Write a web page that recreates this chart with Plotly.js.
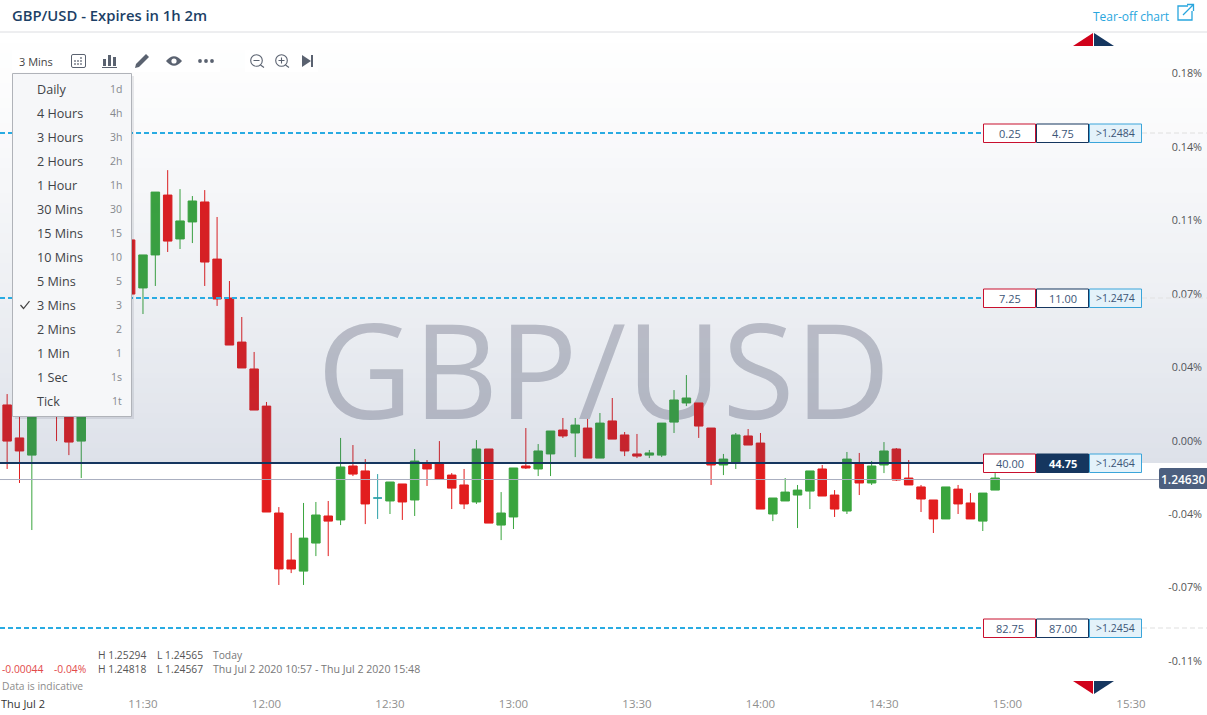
<!DOCTYPE html>
<html>
<head>
<meta charset="utf-8">
<script src="https://cdn.plot.ly/plotly-3.0.1.min.js"></script>
<style>
html,body{margin:0;padding:0;background:#fff;overflow:hidden}
#wm{position:absolute;left:317px;top:302px;font:400 132px/1 "Open Sans",sans-serif;color:#c7c8cf;white-space:nowrap;z-index:0}
#gd{position:absolute;left:0;top:0;width:1207px;height:715px;z-index:1}
</style>
</head>
<body>
<div id="wm">GBP/USD</div>
<div id="gd"></div>
<script>
const times = ["10:57","11:00","11:03","11:09","11:12","11:15","11:27","11:30","11:33","11:36","11:39","11:42","11:45","11:48","11:51","11:54","11:57","12:00","12:03","12:06","12:09","12:12","12:15","12:18","12:21","12:24","12:27","12:30","12:33","12:36","12:39","12:42","12:45","12:48","12:51","12:54","12:57","13:00","13:03","13:06","13:09","13:12","13:15","13:18","13:21","13:24","13:27","13:30","13:33","13:36","13:39","13:42","13:45","13:48","13:51","13:54","13:57","14:00","14:03","14:06","14:09","14:12","14:15","14:18","14:21","14:24","14:27","14:30","14:33","14:36","14:39","14:42","14:45","14:48","14:51","14:54","14:57"];
const opens = [1.246752,1.246552,1.246448,1.246812,1.246752,1.246533,1.247752,1.247461,1.247661,1.248024,1.247758,1.247861,1.247982,1.247636,1.247400,1.247133,1.246970,1.246745,1.246097,1.245812,1.245745,1.245915,1.246079,1.246055,1.246382,1.246352,1.246188,1.246170,1.246273,1.246176,1.246400,1.246400,1.246327,1.246267,1.246164,1.246485,1.246024,1.246073,1.246382,1.246364,1.246455,1.246600,1.246582,1.246612,1.246430,1.246655,1.246570,1.246455,1.246448,1.246448,1.246648,1.246764,1.246764,1.246612,1.246388,1.246406,1.246564,1.246521,1.246091,1.246170,1.246206,1.246230,1.246364,1.246206,1.246109,1.246394,1.246279,1.246388,1.246485,1.246309,1.246255,1.246176,1.246061,1.246242,1.246158,1.246048,1.246236];
const highs = [1.246818,1.246782,1.246782,1.246842,1.246794,1.246794,1.247800,1.247661,1.248042,1.248175,1.248060,1.248018,1.248054,1.247891,1.247503,1.247285,1.247073,1.246770,1.246133,1.245976,1.246158,1.246164,1.246170,1.246552,1.246509,1.246424,1.246333,1.246285,1.246273,1.246485,1.246418,1.246533,1.246339,1.246364,1.246539,1.246485,1.246224,1.246370,1.246612,1.246515,1.246594,1.246673,1.246673,1.246667,1.246703,1.246794,1.246588,1.246576,1.246479,1.246642,1.246842,1.246933,1.246764,1.246612,1.246455,1.246582,1.246606,1.246582,1.246188,1.246309,1.246267,1.246352,1.246388,1.246236,1.246467,1.246461,1.246412,1.246527,1.246491,1.246418,1.246267,1.246176,1.246255,1.246267,1.246218,1.246218,1.246339];
const lows = [1.246364,1.246279,1.245994,1.246533,1.246448,1.246309,1.247388,1.247303,1.247473,1.247679,1.247697,1.247733,1.247473,1.247352,1.247115,1.246976,1.246721,1.246103,1.245661,1.245733,1.245661,1.245836,1.245836,1.246024,1.246321,1.246030,1.246061,1.246091,1.246055,1.246079,1.246261,1.246303,1.246121,1.246121,1.246152,1.246036,1.245933,1.246000,1.246364,1.246321,1.246321,1.246552,1.246436,1.246430,1.246430,1.246545,1.246442,1.246430,1.246430,1.246436,1.246582,1.246745,1.246552,1.246267,1.246327,1.246364,1.246509,1.246121,1.246048,1.246170,1.246006,1.246121,1.246200,1.246073,1.246091,1.246206,1.246267,1.246339,1.246291,1.246267,1.246103,1.245976,1.246061,1.246091,1.246061,1.245988,1.246236];
const closes = [1.246533,1.246473,1.246721,1.246709,1.246527,1.246752,1.247424,1.247661,1.248042,1.247745,1.247867,1.247988,1.247618,1.247394,1.247115,1.246976,1.246721,1.246103,1.245758,1.245758,1.245945,1.246085,1.246048,1.246376,1.246333,1.246152,1.246188,1.246285,1.246164,1.246412,1.246364,1.246303,1.246248,1.246152,1.246485,1.246036,1.246097,1.246370,1.246370,1.246473,1.246594,1.246564,1.246630,1.246430,1.246642,1.246545,1.246473,1.246442,1.246461,1.246642,1.246782,1.246794,1.246624,1.246388,1.246424,1.246570,1.246509,1.246121,1.246188,1.246224,1.246236,1.246352,1.246200,1.246121,1.246424,1.246279,1.246382,1.246473,1.246297,1.246267,1.246182,1.246061,1.246255,1.246152,1.246061,1.246218,1.246309];

const levelPrices = [1.2484, 1.2474, 1.2464, 1.2454];
const levelBids = ["0.25", "7.25", "40.00", "82.75"];
const levelOffers = ["4.75", "11.00", "44.75", "87.00"];
const levelNames = [">1.2484", ">1.2474", ">1.2464", ">1.2454"];
const currentPrice = 1.2463;
const currentLabel = "1.24630";
const pctTicks = [1.248764,1.248315,1.247873,1.247424,1.246982,1.246533,1.246091,1.245648,1.2452];
const pctLabels = ["0.18%","0.14%","0.11%","0.07%","0.04%","0.00%","-0.04%","-0.07%","-0.11%"];
const timeTicks = ["11:30","12:00","12:30","13:00","13:30","14:00","14:30","15:00","15:30"];
const menuNames = ["Daily","4 Hours","3 Hours","2 Hours","1 Hour","30 Mins","15 Mins","10 Mins","5 Mins","3 Mins","2 Mins","1 Min","1 Sec","Tick"];
const menuKeys = ["1d","4h","3h","2h","1h","30","15","10","5","3","2","1","1s","1t"];

const day = "2020-07-02 ";
const T = t => day + t;
const xRange = [T("10:55:16"), T("15:48:28")];
const yRange = [1.244873, 1.249206];
const bandTop = 1.249006;

const UP = "#3aa53e", DOWN = "#e21d1e", FLAT = "#2ba0a8";
const FONT = '"Open Sans", sans-serif';

const X = p => p / 1207, Y = p => 1 - p / 715;
const path = s => { let k = 0; return s.replace(/-?\d+(\.\d+)?/g, n => (k++ % 2 === 0 ? X(+n) : Y(+n)).toFixed(5)); };
const shapes = [], ann = [];
const rect = (x0, y0, x1, y1, fill, line, lw) => shapes.push({type:"rect",layer:"above",xref:"paper",yref:"paper",x0:X(x0),x1:X(x1),y0:Y(y0),y1:Y(y1),fillcolor:fill||"rgba(0,0,0,0)",line:{color:line||"rgba(0,0,0,0)",width:line?(lw||1):0}});
const pth = (d, fill, line, lw) => shapes.push({type:"path",layer:"above",xref:"paper",yref:"paper",path:path(d),fillcolor:fill||"rgba(0,0,0,0)",line:{color:line||"rgba(0,0,0,0)",width:line?(lw||1):0}});
const circ = (cx, cy, r, fill, line, lw) => shapes.push({type:"circle",layer:"above",xref:"paper",yref:"paper",x0:X(cx-r),x1:X(cx+r),y0:Y(cy-r),y1:Y(cy+r),fillcolor:fill||"rgba(0,0,0,0)",line:{color:line||"rgba(0,0,0,0)",width:line?(lw||1):0}});
const txt = (s, x, y, size, color, anchor, weight) => ann.push({text:s,xref:"paper",yref:"paper",x:X(x),y:Y(y),xanchor:anchor||"left",yanchor:"middle",showarrow:false,borderpad:0,font:{family:FONT,size:size,color:color,weight:weight||400}});
const hline = (price, x0, x1, color, width, dash) => shapes.push({type:"line",layer:"above",xref:"paper",yref:"y",x0:X(x0),x1:X(x1),y0:price,y1:price,line:{color:color,width:width,dash:dash||"solid"}});

// tinted background, laid over the candles in thin slices
for (let py = 33; py < 463; py += 5) {
  const t = (py + 2.5 - 33) / 430;
  const a = 0.17 * (0.35 * t * t + 0.65 * t);
  rect(0, py, 1207, Math.min(py + 5, 463), "rgba(55,79,126," + a.toFixed(4) + ")");
}

// header
rect(0, 0, 1207, 32, "#ffffff");
hline(bandTop + 0.000006, 0, 1207, "#dcdde1", 1);
txt("GBP/USD - Expires in 1h 2m", 11, 15.5, 14.8, "#1c3f66", "left", 600);
txt("Tear-off chart", 1092, 16, 12, "#29a6de");
pth("M 1188 6 L 1178 6 L 1178 20 L 1192 20 L 1192 11", null, "#29a6de", 1.3);
pth("M 1183 15 L 1193 5 M 1187 4.5 L 1193.5 4.5 L 1193.5 11", null, "#29a6de", 1.3);

// level lines and tags
levelPrices.forEach((p, i) => {
  const isCurrent = i === 2;
  hline(p, 0, 983, isCurrent ? "#15365f" : "#29abe2", 2, isCurrent ? "solid" : "5px,3px");
  if (!isCurrent) hline(p, 1142, 1207, "rgba(225,225,225,0.55)", 2, "5px,3px");
});
hline(currentPrice, 0, 1159, "#a9aebf", 1);
const tagY = [133, 298, 463, 628];
tagY.forEach((c, i) => {
  const cur = i === 2;
  rect(983.5, c-9, 1035.5, c+9.5, "#ffffff", "#c8102e", 1);
  rect(1036.5, c-9, 1088.5, c+9.5, cur ? "#15365f" : "#ffffff", "#15365f", 1);
  rect(1089.5, c-9, 1141.5, c+9.5, "#e4f2fa", "#3aa5da", 1);
  txt(levelBids[i], 1009.5, c, 11, "#3c5577", "center");
  txt(levelOffers[i], 1062.5, c, 11, cur ? "#ffffff" : "#3c5577", "center", cur ? 700 : 400);
  txt(levelNames[i], 1115.5, c, 10.5, "#3c5577", "center");
});
pth("M 1161 468 L 1207 468 L 1207 489 L 1161 489 Q 1159 489 1159 487 L 1159 470 Q 1159 468 1161 468 Z", "#4c5f7f");
txt(currentLabel, 1183, 479, 12, "#ffffff", "center", 600);

// triangles
pth("M 1073 46 L 1093 33 L 1093 46 Z", "#d0021b");
pth("M 1094 33 L 1114 46 L 1094 46 Z", "#15365f");
pth("M 1073 681 L 1093 681 L 1093 694 Z", "#d0021b");
pth("M 1094 681 L 1114 681 L 1094 694 Z", "#15365f");

// toolbar
rect(12, 50, 220, 72, "#ffffff");
rect(245, 50, 318, 72, "#ffffff");
txt("3 Mins", 18, 62, 11, "#444444");
const ic = "#5a6270";
pth("M 73 54.5 L 84 54.5 Q 85.5 54.5 85.5 56 L 85.5 66 Q 85.5 67.5 84 67.5 L 73 67.5 Q 71.5 67.5 71.5 66 L 71.5 56 Q 71.5 54.5 73 54.5 Z", null, ic, 1);
[[81,58],[75,61],[78,61],[81,61],[75,64],[78,64],[81,64]].forEach(d => rect(d[0]-0.8, d[1]-0.8, d[0]+0.8, d[1]+0.8, ic));
rect(103, 59, 106, 66, ic); rect(108, 55, 111, 66, ic); rect(113, 57, 116, 66, ic); rect(102, 67, 117, 68, ic);
pth("M 135 68 L 136 64 L 146 54 L 149 57 L 139 67 Z", ic);
pth("M 166 61 Q 174 51.5 182 61 Q 174 70.5 166 61 Z", ic);
circ(174, 61, 2.6, "#ffffff");
circ(200, 61, 1.9, ic); circ(206, 61, 1.9, ic); circ(212, 61, 1.9, ic);
circ(256.5, 60.5, 5.8, null, ic, 1.1);
pth("M 253.5 60.5 L 259.5 60.5 M 260.5 65 L 264 67.5", null, ic, 1.1);
circ(281.5, 60.5, 5.8, null, ic, 1.1);
pth("M 278.5 60.5 L 284.5 60.5 M 281.5 57.5 L 281.5 63.5 M 285.5 65 L 289 67.5", null, ic, 1.1);
pth("M 302 55 L 311 61 L 302 67 Z", ic);
rect(311, 55, 313, 67, ic);

// dropdown menu
rect(15, 76, 134, 419, "rgba(40,50,70,0.10)");
rect(12.5, 73.5, 131.5, 416.5, "#f6f7f9", "#b0b3b9", 1);
menuNames.forEach((n, i) => {
  const y = 89.3 + 24 * i;
  txt(n, 36, y, 12.6, "#3f4347");
  txt(menuKeys[i], 123, y, 10.5, "#85888d", "right");
});
pth("M 20.5 305 L 23.5 308.5 L 29.5 301", null, "#444444", 1.2);

// footer texts
txt("H 1.25294", 97, 655, 10.3, "#555555");
txt("L 1.24565", 156, 655, 10.3, "#555555");
txt("Today", 212, 655, 10.3, "#777777");
txt("-0.00044", 1, 669, 10.3, "#e24a4a");
txt("-0.04%", 53, 669, 10.3, "#e24a4a");
txt("H 1.24818", 97, 669, 10.3, "#555555");
txt("L 1.24567", 156, 669, 10.3, "#555555");
txt("Thu Jul 2 2020 10:57 - Thu Jul 2 2020 15:48", 212, 669, 10.6, "#777777");
txt("Data is indicative", 1, 686, 10.3, "#8c8c8c");
txt("Thu Jul 2", 0, 703, 11, "#333333");

const idx = times.map((_, i) => i);
const body = idx.filter(i => opens[i] !== closes[i]);
const flat = idx.filter(i => opens[i] === closes[i]);
const candle = (ids, upC, downC) => ({
  type: "candlestick",
  x: ids.map(i => T(times[i])),
  open: ids.map(i => opens[i]), high: ids.map(i => highs[i]),
  low: ids.map(i => lows[i]), close: ids.map(i => closes[i]),
  increasing: {line:{color:upC,width:1},fillcolor:upC},
  decreasing: {line:{color:downC,width:1},fillcolor:downC},
  whiskerwidth: 0, showlegend: false, hoverinfo: "skip"
});

Plotly.newPlot("gd", [candle(body, UP, DOWN), candle(flat, FLAT, FLAT)], {
  width: 1207, height: 715,
  margin: {l:0,r:0,t:0,b:0,pad:0},
  boxgap: 0.2, boxgroupgap: 0.14,
  paper_bgcolor: "rgba(0,0,0,0)", plot_bgcolor: "rgba(0,0,0,0)",
  showlegend: false,
  xaxis: {type:"date", range:xRange, rangeslider:{visible:false}, showgrid:false, zeroline:false, showline:false,
    ticks:"", tickmode:"array", tickvals:timeTicks.map(T), ticktext:timeTicks, ticklabelposition:"inside", ticklabelstandoff:2,
    tickfont:{family:FONT,size:11.5,color:"#8f8f8f"}, fixedrange:true},
  yaxis: {side:"right", range:yRange, showgrid:false, zeroline:false, showline:false,
    ticks:"", tickmode:"array", tickvals:pctTicks, ticktext:pctLabels, ticklabelposition:"inside", ticklabelstandoff:2,
    tickfont:{family:FONT,size:10.8,color:"#555555"}, fixedrange:true},
  shapes: shapes, annotations: ann
}, {displayModeBar:false, staticPlot:true});
</script>
</body>
</html>
